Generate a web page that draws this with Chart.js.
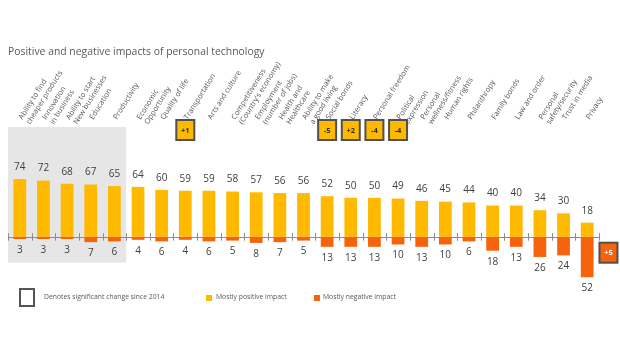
<!DOCTYPE html>
<html>
<head>
<meta charset="utf-8">
<title>Positive and negative impacts of personal technology</title>
<script src="https://cdn.jsdelivr.net/npm/chart.js@4.4.1/dist/chart.umd.min.js"></script>
<style>
    body { margin: 0; background: #fff; }
    #wrap { position: relative; width: 620px; height: 349px; font-family: 'Open Sans', sans-serif; }
    #impactChart { position: absolute; left: 0; top: 0; }
    .chartTitle { position: absolute; left: 8px; top: 45px; color: #595959; font-size: 10.4px; line-height: 12px; white-space: nowrap; }
    .key { position: absolute; color: #595959; font-size: 6.8px; line-height: 10px; white-space: nowrap; }
    .swatch { position: absolute; width: 6px; height: 6px; }
    .changeBox { position: absolute; left: 19px; top: 288px; width: 12px; height: 15px; border: 2.5px solid #555; }
</style>
</head>
<body>
<div id="wrap">
    <canvas id="impactChart" width="620" height="349"></canvas>
    <div class="chartTitle">Positive and negative impacts of personal technology</div>
    <div class="changeBox"></div>
    <div class="key" style="left: 44px; top: 292px;">Denotes significant change since 2014</div>
    <div class="swatch" style="left: 206px; top: 295px; background: #FFB900;"></div>
    <div class="key" style="left: 216px; top: 292px;">Mostly positive impact</div>
    <div class="swatch" style="left: 314px; top: 295px; background: #F7630C;"></div>
    <div class="key" style="left: 323px; top: 292px;">Mostly negative impact</div>
</div>
<script>
const categories = [
    ['Ability to find', 'cheaper products'],
    ['Innovation', 'in business'],
    ['Ability to start', 'New businesses'],
    'Education',
    'Productivity',
    ['Economic', 'Opportunity'],
    'Quality of life',
    'Transportation',
    'Arts and culture',
    ['Competitiveness', "(Country's economy)"],
    ['Employment', '(number of jobs)'],
    ['Health and', 'Healthcare'],
    ['Ability to make', 'a good living'],
    'Social bonds',
    'Literacy',
    'Personal freedom',
    ['Political', 'expression'],
    ['Personal', 'wellness/fitness'],
    'Human rights',
    'Philanthropy',
    'Family bonds',
    'Law and order',
    ['Personal', 'safety/security'],
    'Trust in media',
    'Privacy'
];
const positiveImpact = [74, 72, 68, 67, 65, 64, 60, 59, 59, 58, 57, 56, 56, 52, 50, 50, 49, 46, 45, 44, 40, 40, 34, 30, 18];
const negativeImpact = [3, 3, 3, 7, 6, 4, 6, 4, 6, 5, 8, 7, 5, 13, 13, 13, 10, 13, 10, 6, 18, 13, 26, 24, 52];
// significant change since 2014
const positiveChange = [null, null, null, null, null, null, null, '+1', null, null, null, null, null, '-5', '+2', '-4', '-4', null, null, null, null, null, null, null, null];
const negativeChange = [null, null, null, null, null, null, null, null, null, null, null, null, null, null, null, null, null, null, null, null, null, null, null, null, '+5'];
// first categories shaded in grey
const shadedCount = 5;

const YELLOW = '#FFB900';
const ORANGE = '#F7630C';
const FONT = "'Open Sans', sans-serif";

function drawBadge(ctx, cx, cy, text, fill, textColor) {
    ctx.save();
    ctx.fillStyle = fill;
    ctx.strokeStyle = '#505050';
    ctx.lineWidth = 2;
    ctx.fillRect(cx - 9, cy - 10, 18, 20);
    ctx.strokeRect(cx - 9, cy - 10, 18, 20);
    ctx.fillStyle = textColor;
    ctx.font = 'bold 7.5px ' + FONT;
    ctx.textAlign = 'center';
    ctx.textBaseline = 'middle';
    ctx.fillText(text, cx, cy + 0.5);
    ctx.restore();
}

const impactDecor = {
    id: 'impactDecor',
    beforeDatasetsDraw(chart) {
        const {ctx, chartArea, scales: {x, y}} = chart;
        const step = x.getPixelForValue(1) - x.getPixelForValue(0);
        const zero = y.getPixelForValue(0);
        ctx.save();
        // grey panel
        const left = x.getPixelForValue(0) - step / 2;
        const right = x.getPixelForValue(shadedCount - 1) + step / 2;
        const top = chartArea.top - 3;
        ctx.fillStyle = '#e6e6e6';
        ctx.fillRect(left, top, right - left, zero + 26 - top);
        // zero line with category ticks
        ctx.strokeStyle = '#8c8c8c';
        ctx.lineWidth = 1;
        ctx.beginPath();
        ctx.moveTo(chartArea.left, Math.round(zero) + 0.5);
        ctx.lineTo(chartArea.right + 1, Math.round(zero) + 0.5);
        for (let i = 0; i <= categories.length; i++) {
            const tx = Math.round(x.getPixelForValue(i) - step / 2) + 0.5;
            ctx.moveTo(tx, zero - 3.5);
            ctx.lineTo(tx, zero + 4);
        }
        ctx.stroke();
        ctx.restore();
    },
    afterDatasetsDraw(chart) {
        const {ctx, chartArea, scales: {x, y}} = chart;
        const step = x.getPixelForValue(1) - x.getPixelForValue(0);
        const zero = y.getPixelForValue(0);
        const pos = chart.getDatasetMeta(0).data;
        const neg = chart.getDatasetMeta(1).data;
        ctx.save();
        ctx.font = '10px ' + FONT;
        ctx.fillStyle = '#404040';
        ctx.textAlign = 'center';
        ctx.textBaseline = 'middle';
        pos.forEach((bar, i) => ctx.fillText(positiveImpact[i], bar.x, bar.y - 12));
        neg.forEach((bar, i) => ctx.fillText(negativeImpact[i], bar.x, bar.y + 11));
        ctx.restore();
        positiveChange.forEach((c, i) => {
            if (c) drawBadge(ctx, x.getPixelForValue(i), chartArea.top, c, YELLOW, '#333');
        });
        negativeChange.forEach((c, i) => {
            if (c) drawBadge(ctx, x.getPixelForValue(i) + step * 0.9, zero + 16, c, ORANGE, '#fff');
        });
    }
};

const ctx = document.getElementById('impactChart').getContext('2d');
new Chart(ctx, {
    type: 'bar',
    data: {
        labels: categories,
        datasets: [
            {
                label: 'Mostly positive impact',
                data: positiveImpact,
                backgroundColor: YELLOW
            },
            {
                label: 'Mostly negative impact',
                data: negativeImpact.map(v => -v),
                backgroundColor: ORANGE
            }
        ]
    },
    options: {
        responsive: false,
        animation: false,
        layout: {padding: {left: 8, right: 21, top: 40, bottom: 50}},
        datasets: {bar: {barPercentage: 0.54, categoryPercentage: 1}},
        scales: {
            x: {
                position: 'top',
                stacked: true,
                grid: {display: false, drawTicks: false},
                border: {display: false},
                ticks: {
                    autoSkip: false,
                    minRotation: 58,
                    maxRotation: 58,
                    padding: 4,
                    labelOffset: 16,
                    color: '#595959',
                    font: {size: 7.5, family: FONT},
                    // keep the first line of every label on the same baseline
                    callback: function (value) {
                        const label = this.getLabelForValue(value);
                        return Array.isArray(label) ? label : [label, ''];
                    }
                },
                afterFit: scale => { scale.height = 90; }
            },
            y: {display: false, stacked: true, min: -80, max: 137}
        },
        plugins: {
            legend: {display: false},
            tooltip: {enabled: false},
            title: {display: false}
        }
    },
    plugins: [impactDecor]
});
</script>
</body>
</html>
